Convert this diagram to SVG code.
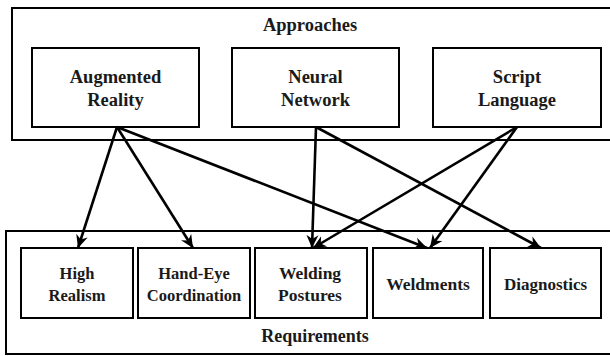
<svg xmlns="http://www.w3.org/2000/svg" width="610" height="356" viewBox="0 0 610 356">
<defs>
<style>
.frame{fill:none;stroke:#000;stroke-width:2}
.box{fill:#fff;stroke:#000;stroke-width:2}
.t{font-family:'Liberation Serif',serif;font-weight:700;font-size:18.5px;fill:#1a1a1a;text-anchor:middle}
.s{font-size:16.5px}
.c{fill:none;stroke:#000;stroke-width:2.6;marker-end:url(#ah)}
</style>
<marker id="ah" markerUnits="userSpaceOnUse" markerWidth="14" markerHeight="14" viewBox="0 0 14 14" refX="13" refY="7" orient="auto">
<path d="M0,1 L13,7 L0,13 L4,7 z" fill="#000"/>
</marker>
</defs>
<rect id="approaches" class="frame" x="12" y="8" width="610" height="132"/>
<text class="t" x="310" y="31">Approaches</text>
<rect id="requirements" class="frame" x="6" y="231" width="620" height="123"/>
<text class="t" x="315" y="342" style="font-size:18px">Requirements</text>
<g id="n-ar"><rect class="box" x="32" y="48" width="167" height="79"/><text class="t" x="115.5" y="83">Augmented</text><text class="t" x="115.5" y="106">Reality</text></g>
<g id="n-nn"><rect class="box" x="232" y="48" width="167" height="79"/><text class="t" x="315.5" y="83">Neural</text><text class="t" x="315.5" y="106">Network</text></g>
<g id="n-sl"><rect class="box" x="433" y="48" width="168" height="79"/><text class="t" x="517" y="83">Script</text><text class="t" x="517" y="106">Language</text></g>
<g id="n-hr"><rect class="box" x="21" y="248" width="112" height="70"/><text class="t s" x="77" y="279">High</text><text class="t s" x="77" y="301">Realism</text></g>
<g id="n-he"><rect class="box" x="138" y="248" width="112" height="70"/><text class="t s" x="194" y="279">Hand-Eye</text><text class="t s" x="194" y="301">Coordination</text></g>
<g id="n-wp"><rect class="box" x="255" y="248" width="112" height="70"/><text class="t" x="310" y="279" style="font-size:17.5px">Welding</text><text class="t" x="310" y="301" style="font-size:17.5px">Postures</text></g>
<g id="n-wd"><rect class="box" x="373" y="248" width="110" height="70"/><text class="t" x="428" y="290" style="font-size:17.5px">Weldments</text></g>
<g id="n-dg"><rect class="box" x="490" y="248" width="111" height="70"/><text class="t s" x="545.5" y="290" style="font-size:17px">Diagnostics</text></g>
<g id="connectors">
<line class="c" x1="117" y1="127" x2="78" y2="248"/>
<line class="c" x1="117" y1="127" x2="193" y2="248"/>
<line class="c" x1="117" y1="127" x2="427" y2="248"/>
<line class="c" x1="316" y1="127" x2="312" y2="248"/>
<line class="c" x1="316" y1="127" x2="541" y2="248"/>
<line class="c" x1="517" y1="127" x2="313" y2="248"/>
<line class="c" x1="517" y1="127" x2="430" y2="248"/>
</g>
</svg>
